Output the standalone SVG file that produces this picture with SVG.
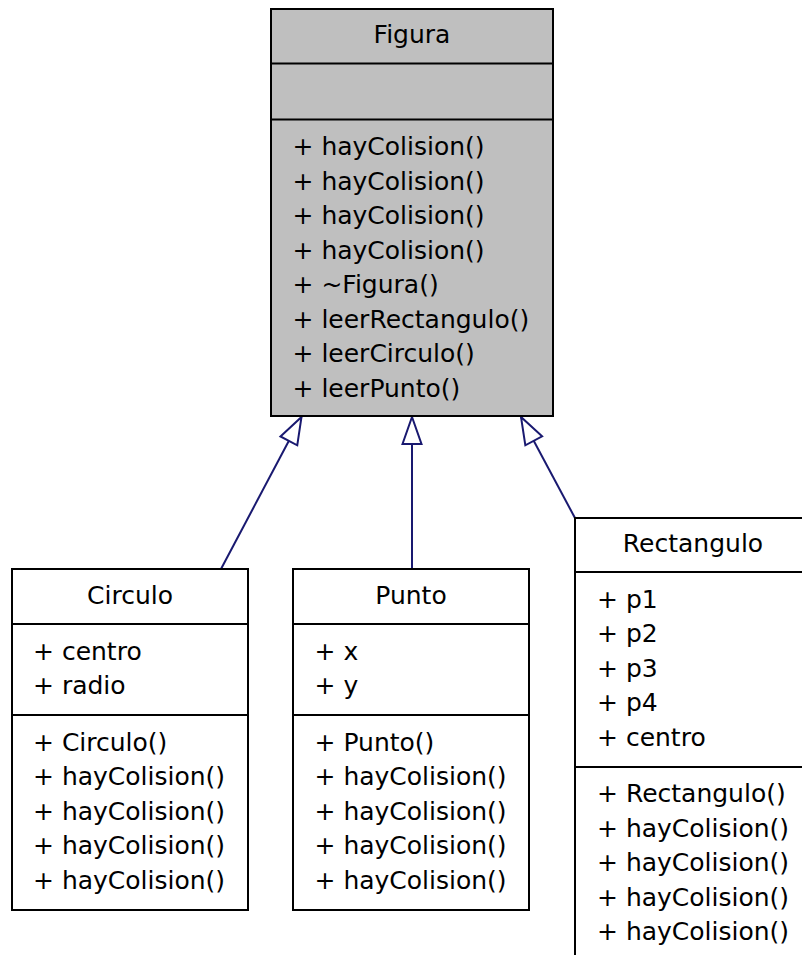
<svg xmlns="http://www.w3.org/2000/svg" width="802" height="955" viewBox="0 0 802 955">
<style>
.box{fill:#ffffff;stroke:#000000;stroke-width:2}
.gray{fill:#bfbfbf}
.div{stroke:#000000;stroke-width:2}
text{font-family:"DejaVu Sans","Liberation Sans",sans-serif;font-size:25px;fill:#000000}
.c{text-anchor:middle}
.edge{fill:none;stroke:#191970;stroke-width:2;marker-end:url(#hollow)}
</style>
<defs>
<marker id="hollow" markerUnits="userSpaceOnUse" markerWidth="32" markerHeight="24" refX="28" refY="12" orient="auto" style="overflow:visible">
<path d="M1,2.5 L28,12 L1,21.5 Z" fill="#ffffff" stroke="#191970" stroke-width="2"/>
</marker>
</defs>
<rect x="0" y="0" width="802" height="955" fill="#ffffff"/>
<g id="connectors">
<path class="edge" d="M221,569 L301.5,417"/>
<path class="edge" d="M412,569 L412,417"/>
<path class="edge" d="M575,518 L521,417"/>
</g>
<g id="Figura">
<rect class="box gray" x="271" y="9" width="282" height="407"/>
<line class="div" x1="271" y1="63.5" x2="553" y2="63.5"/>
<line class="div" x1="271" y1="119.5" x2="553" y2="119.5"/>
<text class="c" x="412" y="43">Figura</text>
<text x="292.5" y="155">+ hayColision()</text>
<text x="292.5" y="189.5">+ hayColision()</text>
<text x="292.5" y="224">+ hayColision()</text>
<text x="292.5" y="258.5">+ hayColision()</text>
<text x="292.5" y="293">+ ~Figura()</text>
<text x="292.5" y="327.5">+ leerRectangulo()</text>
<text x="292.5" y="362">+ leerCirculo()</text>
<text x="292.5" y="396.5">+ leerPunto()</text>
</g>
<g id="Circulo">
<rect class="box" x="12" y="569" width="236" height="341"/>
<line class="div" x1="12" y1="624" x2="248" y2="624"/>
<line class="div" x1="12" y1="715" x2="248" y2="715"/>
<text class="c" x="130" y="604">Circulo</text>
<text x="33" y="659.5">+ centro</text>
<text x="33" y="694">+ radio</text>
<text x="33" y="750.5">+ Circulo()</text>
<text x="33" y="785">+ hayColision()</text>
<text x="33" y="819.5">+ hayColision()</text>
<text x="33" y="854">+ hayColision()</text>
<text x="33" y="888.5">+ hayColision()</text>
</g>
<g id="Punto">
<rect class="box" x="293" y="569" width="236" height="341"/>
<line class="div" x1="293" y1="624" x2="529" y2="624"/>
<line class="div" x1="293" y1="715" x2="529" y2="715"/>
<text class="c" x="411" y="604">Punto</text>
<text x="314.5" y="659.5">+ x</text>
<text x="314.5" y="694">+ y</text>
<text x="314.5" y="750.5">+ Punto()</text>
<text x="314.5" y="785">+ hayColision()</text>
<text x="314.5" y="819.5">+ hayColision()</text>
<text x="314.5" y="854">+ hayColision()</text>
<text x="314.5" y="888.5">+ hayColision()</text>
</g>
<g id="Rectangulo">
<rect class="box" x="575" y="518" width="236" height="460"/>
<line class="div" x1="575" y1="572" x2="811" y2="572"/>
<line class="div" x1="575" y1="767" x2="811" y2="767"/>
<text class="c" x="693" y="552">Rectangulo</text>
<text x="597" y="607.5">+ p1</text>
<text x="597" y="642">+ p2</text>
<text x="597" y="676.5">+ p3</text>
<text x="597" y="711">+ p4</text>
<text x="597" y="745.5">+ centro</text>
<text x="597" y="802">+ Rectangulo()</text>
<text x="597" y="836.5">+ hayColision()</text>
<text x="597" y="871">+ hayColision()</text>
<text x="597" y="905.5">+ hayColision()</text>
<text x="597" y="940">+ hayColision()</text>
</g>
</svg>
